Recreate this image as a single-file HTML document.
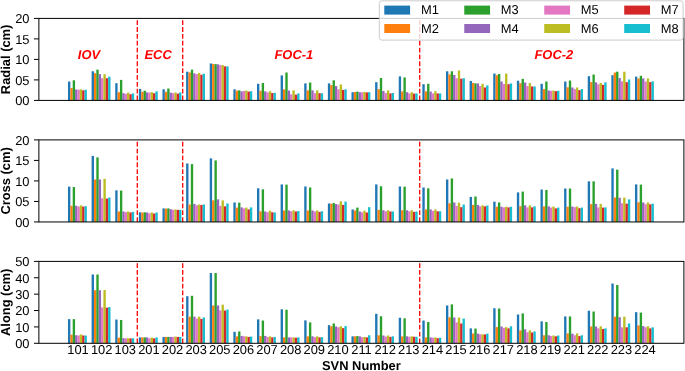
<!DOCTYPE html>
<html><head><meta charset="utf-8"><title>SVN orbit errors</title>
<style>html,body{margin:0;padding:0;background:#fff}svg{display:block}</style></head>
<body>
<svg width="685" height="371" viewBox="0 0 685 371" font-family="'Liberation Sans', Arial, sans-serif" text-rendering="geometricPrecision">
<rect width="685" height="371" fill="#fff"/>
<rect x="67.98" y="81.54" width="2.36" height="18.86" fill="#1f77b4"/>
<rect x="70.34" y="88.10" width="2.36" height="12.30" fill="#ff7f0e"/>
<rect x="72.70" y="80.31" width="2.36" height="20.09" fill="#2ca02c"/>
<rect x="75.07" y="89.54" width="2.36" height="10.86" fill="#9467bd"/>
<rect x="77.43" y="89.74" width="2.36" height="10.66" fill="#e377c2"/>
<rect x="79.79" y="89.33" width="2.36" height="11.07" fill="#bcbd22"/>
<rect x="82.16" y="90.36" width="2.36" height="10.04" fill="#d62728"/>
<rect x="84.52" y="89.74" width="2.36" height="10.66" fill="#17becf"/>
<rect x="91.61" y="71.29" width="2.36" height="29.11" fill="#1f77b4"/>
<rect x="93.97" y="73.14" width="2.36" height="27.27" fill="#ff7f0e"/>
<rect x="96.33" y="69.65" width="2.36" height="30.75" fill="#2ca02c"/>
<rect x="98.69" y="74.16" width="2.36" height="26.24" fill="#9467bd"/>
<rect x="101.06" y="78.26" width="2.36" height="22.14" fill="#e377c2"/>
<rect x="103.42" y="74.16" width="2.36" height="26.24" fill="#bcbd22"/>
<rect x="105.78" y="78.26" width="2.36" height="22.14" fill="#d62728"/>
<rect x="108.14" y="76.62" width="2.36" height="23.78" fill="#17becf"/>
<rect x="115.23" y="83.18" width="2.36" height="17.22" fill="#1f77b4"/>
<rect x="117.59" y="92.20" width="2.36" height="8.20" fill="#ff7f0e"/>
<rect x="119.95" y="79.90" width="2.36" height="20.50" fill="#2ca02c"/>
<rect x="122.32" y="93.23" width="2.36" height="7.17" fill="#9467bd"/>
<rect x="124.68" y="93.84" width="2.36" height="6.56" fill="#e377c2"/>
<rect x="127.04" y="92.61" width="2.36" height="7.79" fill="#bcbd22"/>
<rect x="129.41" y="94.25" width="2.36" height="6.15" fill="#d62728"/>
<rect x="131.77" y="93.43" width="2.36" height="6.97" fill="#17becf"/>
<rect x="138.86" y="88.92" width="2.36" height="11.48" fill="#1f77b4"/>
<rect x="141.22" y="91.79" width="2.36" height="8.61" fill="#ff7f0e"/>
<rect x="143.58" y="90.77" width="2.36" height="9.63" fill="#2ca02c"/>
<rect x="145.94" y="92.41" width="2.36" height="7.99" fill="#9467bd"/>
<rect x="148.31" y="92.61" width="2.36" height="7.79" fill="#e377c2"/>
<rect x="150.67" y="92.20" width="2.36" height="8.20" fill="#bcbd22"/>
<rect x="153.03" y="93.23" width="2.36" height="7.17" fill="#d62728"/>
<rect x="155.39" y="91.38" width="2.36" height="9.02" fill="#17becf"/>
<rect x="162.48" y="89.33" width="2.36" height="11.07" fill="#1f77b4"/>
<rect x="164.84" y="91.79" width="2.36" height="8.61" fill="#ff7f0e"/>
<rect x="167.21" y="88.51" width="2.36" height="11.89" fill="#2ca02c"/>
<rect x="169.57" y="92.61" width="2.36" height="7.79" fill="#9467bd"/>
<rect x="171.93" y="93.23" width="2.36" height="7.17" fill="#e377c2"/>
<rect x="174.29" y="92.41" width="2.36" height="7.99" fill="#bcbd22"/>
<rect x="176.66" y="93.64" width="2.36" height="6.76" fill="#d62728"/>
<rect x="179.02" y="92.41" width="2.36" height="7.99" fill="#17becf"/>
<rect x="186.11" y="71.70" width="2.36" height="28.70" fill="#1f77b4"/>
<rect x="188.47" y="72.52" width="2.36" height="27.88" fill="#ff7f0e"/>
<rect x="190.83" y="69.65" width="2.36" height="30.75" fill="#2ca02c"/>
<rect x="193.19" y="73.34" width="2.36" height="27.06" fill="#9467bd"/>
<rect x="195.56" y="74.16" width="2.36" height="26.24" fill="#e377c2"/>
<rect x="197.92" y="72.93" width="2.36" height="27.47" fill="#bcbd22"/>
<rect x="200.28" y="74.78" width="2.36" height="25.62" fill="#d62728"/>
<rect x="202.64" y="73.75" width="2.36" height="26.65" fill="#17becf"/>
<rect x="209.73" y="63.50" width="2.36" height="36.90" fill="#1f77b4"/>
<rect x="212.09" y="63.91" width="2.36" height="36.49" fill="#ff7f0e"/>
<rect x="214.46" y="64.12" width="2.36" height="36.28" fill="#2ca02c"/>
<rect x="216.82" y="64.32" width="2.36" height="36.08" fill="#9467bd"/>
<rect x="219.18" y="65.14" width="2.36" height="35.26" fill="#e377c2"/>
<rect x="221.54" y="65.14" width="2.36" height="35.26" fill="#bcbd22"/>
<rect x="223.91" y="66.37" width="2.36" height="34.03" fill="#d62728"/>
<rect x="226.27" y="66.37" width="2.36" height="34.03" fill="#17becf"/>
<rect x="233.36" y="89.33" width="2.36" height="11.07" fill="#1f77b4"/>
<rect x="235.72" y="90.56" width="2.36" height="9.84" fill="#ff7f0e"/>
<rect x="238.08" y="90.36" width="2.36" height="10.04" fill="#2ca02c"/>
<rect x="240.44" y="91.38" width="2.36" height="9.02" fill="#9467bd"/>
<rect x="242.81" y="90.97" width="2.36" height="9.43" fill="#e377c2"/>
<rect x="245.17" y="90.56" width="2.36" height="9.84" fill="#bcbd22"/>
<rect x="247.53" y="91.59" width="2.36" height="8.81" fill="#d62728"/>
<rect x="249.89" y="91.18" width="2.36" height="9.22" fill="#17becf"/>
<rect x="256.98" y="83.80" width="2.36" height="16.60" fill="#1f77b4"/>
<rect x="259.34" y="90.77" width="2.36" height="9.63" fill="#ff7f0e"/>
<rect x="261.71" y="82.98" width="2.36" height="17.42" fill="#2ca02c"/>
<rect x="264.07" y="91.38" width="2.36" height="9.02" fill="#9467bd"/>
<rect x="266.43" y="92.41" width="2.36" height="7.99" fill="#e377c2"/>
<rect x="268.79" y="91.18" width="2.36" height="9.22" fill="#bcbd22"/>
<rect x="271.16" y="93.02" width="2.36" height="7.38" fill="#d62728"/>
<rect x="273.52" y="92.82" width="2.36" height="7.58" fill="#17becf"/>
<rect x="280.61" y="75.39" width="2.36" height="25.01" fill="#1f77b4"/>
<rect x="282.97" y="89.33" width="2.36" height="11.07" fill="#ff7f0e"/>
<rect x="285.33" y="72.52" width="2.36" height="27.88" fill="#2ca02c"/>
<rect x="287.69" y="90.56" width="2.36" height="9.84" fill="#9467bd"/>
<rect x="290.06" y="94.25" width="2.36" height="6.15" fill="#e377c2"/>
<rect x="292.42" y="90.36" width="2.36" height="10.04" fill="#bcbd22"/>
<rect x="294.78" y="94.66" width="2.36" height="5.74" fill="#d62728"/>
<rect x="297.14" y="93.43" width="2.36" height="6.97" fill="#17becf"/>
<rect x="304.23" y="83.39" width="2.36" height="17.02" fill="#1f77b4"/>
<rect x="306.59" y="90.36" width="2.36" height="10.04" fill="#ff7f0e"/>
<rect x="308.96" y="82.57" width="2.36" height="17.83" fill="#2ca02c"/>
<rect x="311.32" y="90.36" width="2.36" height="10.04" fill="#9467bd"/>
<rect x="313.68" y="93.23" width="2.36" height="7.17" fill="#e377c2"/>
<rect x="316.04" y="90.36" width="2.36" height="10.04" fill="#bcbd22"/>
<rect x="318.41" y="93.23" width="2.36" height="7.17" fill="#d62728"/>
<rect x="320.77" y="93.23" width="2.36" height="7.17" fill="#17becf"/>
<rect x="327.86" y="83.39" width="2.36" height="17.02" fill="#1f77b4"/>
<rect x="330.22" y="85.03" width="2.36" height="15.37" fill="#ff7f0e"/>
<rect x="332.58" y="80.31" width="2.36" height="20.09" fill="#2ca02c"/>
<rect x="334.94" y="86.05" width="2.36" height="14.35" fill="#9467bd"/>
<rect x="337.31" y="89.33" width="2.36" height="11.07" fill="#e377c2"/>
<rect x="339.67" y="84.41" width="2.36" height="15.99" fill="#bcbd22"/>
<rect x="342.03" y="89.95" width="2.36" height="10.45" fill="#d62728"/>
<rect x="344.39" y="89.33" width="2.36" height="11.07" fill="#17becf"/>
<rect x="351.48" y="92.20" width="2.36" height="8.20" fill="#1f77b4"/>
<rect x="353.84" y="92.00" width="2.36" height="8.40" fill="#ff7f0e"/>
<rect x="356.21" y="91.59" width="2.36" height="8.81" fill="#2ca02c"/>
<rect x="358.57" y="92.20" width="2.36" height="8.20" fill="#9467bd"/>
<rect x="360.93" y="92.41" width="2.36" height="7.99" fill="#e377c2"/>
<rect x="363.29" y="91.79" width="2.36" height="8.61" fill="#bcbd22"/>
<rect x="365.66" y="92.41" width="2.36" height="7.99" fill="#d62728"/>
<rect x="368.02" y="92.20" width="2.36" height="8.20" fill="#17becf"/>
<rect x="375.11" y="82.16" width="2.36" height="18.24" fill="#1f77b4"/>
<rect x="377.47" y="89.12" width="2.36" height="11.27" fill="#ff7f0e"/>
<rect x="379.83" y="78.06" width="2.36" height="22.34" fill="#2ca02c"/>
<rect x="382.19" y="90.97" width="2.36" height="9.43" fill="#9467bd"/>
<rect x="384.56" y="93.02" width="2.36" height="7.38" fill="#e377c2"/>
<rect x="386.92" y="90.36" width="2.36" height="10.04" fill="#bcbd22"/>
<rect x="389.28" y="93.43" width="2.36" height="6.97" fill="#d62728"/>
<rect x="391.64" y="93.02" width="2.36" height="7.38" fill="#17becf"/>
<rect x="398.73" y="76.42" width="2.36" height="23.98" fill="#1f77b4"/>
<rect x="401.09" y="91.38" width="2.36" height="9.02" fill="#ff7f0e"/>
<rect x="403.46" y="77.44" width="2.36" height="22.96" fill="#2ca02c"/>
<rect x="405.82" y="92.20" width="2.36" height="8.20" fill="#9467bd"/>
<rect x="408.18" y="93.43" width="2.36" height="6.97" fill="#e377c2"/>
<rect x="410.54" y="92.20" width="2.36" height="8.20" fill="#bcbd22"/>
<rect x="412.91" y="93.64" width="2.36" height="6.76" fill="#d62728"/>
<rect x="415.27" y="93.43" width="2.36" height="6.97" fill="#17becf"/>
<rect x="422.36" y="84.21" width="2.36" height="16.20" fill="#1f77b4"/>
<rect x="424.72" y="91.38" width="2.36" height="9.02" fill="#ff7f0e"/>
<rect x="427.08" y="83.80" width="2.36" height="16.60" fill="#2ca02c"/>
<rect x="429.44" y="91.59" width="2.36" height="8.81" fill="#9467bd"/>
<rect x="431.81" y="93.43" width="2.36" height="6.97" fill="#e377c2"/>
<rect x="434.17" y="91.18" width="2.36" height="9.22" fill="#bcbd22"/>
<rect x="436.53" y="93.43" width="2.36" height="6.97" fill="#d62728"/>
<rect x="438.89" y="93.43" width="2.36" height="6.97" fill="#17becf"/>
<rect x="445.98" y="71.29" width="2.36" height="29.11" fill="#1f77b4"/>
<rect x="448.34" y="74.37" width="2.36" height="26.03" fill="#ff7f0e"/>
<rect x="450.71" y="71.29" width="2.36" height="29.11" fill="#2ca02c"/>
<rect x="453.07" y="74.98" width="2.36" height="25.42" fill="#9467bd"/>
<rect x="455.43" y="78.26" width="2.36" height="22.14" fill="#e377c2"/>
<rect x="457.79" y="70.47" width="2.36" height="29.93" fill="#bcbd22"/>
<rect x="460.16" y="78.67" width="2.36" height="21.73" fill="#d62728"/>
<rect x="462.52" y="78.26" width="2.36" height="22.14" fill="#17becf"/>
<rect x="469.61" y="80.93" width="2.36" height="19.47" fill="#1f77b4"/>
<rect x="471.97" y="82.98" width="2.36" height="17.42" fill="#ff7f0e"/>
<rect x="474.33" y="83.39" width="2.36" height="17.02" fill="#2ca02c"/>
<rect x="476.69" y="83.39" width="2.36" height="17.02" fill="#9467bd"/>
<rect x="479.06" y="86.05" width="2.36" height="14.35" fill="#e377c2"/>
<rect x="481.42" y="83.80" width="2.36" height="16.60" fill="#bcbd22"/>
<rect x="483.78" y="87.49" width="2.36" height="12.91" fill="#d62728"/>
<rect x="486.14" y="85.44" width="2.36" height="14.96" fill="#17becf"/>
<rect x="493.23" y="73.55" width="2.36" height="26.85" fill="#1f77b4"/>
<rect x="495.59" y="75.19" width="2.36" height="25.21" fill="#ff7f0e"/>
<rect x="497.96" y="73.96" width="2.36" height="26.44" fill="#2ca02c"/>
<rect x="500.32" y="81.54" width="2.36" height="18.86" fill="#9467bd"/>
<rect x="502.68" y="84.00" width="2.36" height="16.40" fill="#e377c2"/>
<rect x="505.04" y="73.55" width="2.36" height="26.85" fill="#bcbd22"/>
<rect x="507.41" y="84.21" width="2.36" height="16.20" fill="#d62728"/>
<rect x="509.77" y="83.39" width="2.36" height="17.02" fill="#17becf"/>
<rect x="516.86" y="80.72" width="2.36" height="19.68" fill="#1f77b4"/>
<rect x="519.22" y="83.18" width="2.36" height="17.22" fill="#ff7f0e"/>
<rect x="521.58" y="78.88" width="2.36" height="21.52" fill="#2ca02c"/>
<rect x="523.94" y="82.57" width="2.36" height="17.83" fill="#9467bd"/>
<rect x="526.31" y="86.05" width="2.36" height="14.35" fill="#e377c2"/>
<rect x="528.67" y="82.98" width="2.36" height="17.42" fill="#bcbd22"/>
<rect x="531.03" y="86.46" width="2.36" height="13.94" fill="#d62728"/>
<rect x="533.39" y="86.46" width="2.36" height="13.94" fill="#17becf"/>
<rect x="540.48" y="83.80" width="2.36" height="16.60" fill="#1f77b4"/>
<rect x="542.84" y="89.12" width="2.36" height="11.27" fill="#ff7f0e"/>
<rect x="545.21" y="81.54" width="2.36" height="18.86" fill="#2ca02c"/>
<rect x="547.57" y="90.56" width="2.36" height="9.84" fill="#9467bd"/>
<rect x="549.93" y="90.77" width="2.36" height="9.63" fill="#e377c2"/>
<rect x="552.29" y="90.56" width="2.36" height="9.84" fill="#bcbd22"/>
<rect x="554.65" y="91.18" width="2.36" height="9.22" fill="#d62728"/>
<rect x="557.02" y="90.77" width="2.36" height="9.63" fill="#17becf"/>
<rect x="564.11" y="81.54" width="2.36" height="18.86" fill="#1f77b4"/>
<rect x="566.47" y="87.28" width="2.36" height="13.12" fill="#ff7f0e"/>
<rect x="568.83" y="80.52" width="2.36" height="19.88" fill="#2ca02c"/>
<rect x="571.19" y="87.49" width="2.36" height="12.91" fill="#9467bd"/>
<rect x="573.56" y="89.12" width="2.36" height="11.27" fill="#e377c2"/>
<rect x="575.92" y="87.49" width="2.36" height="12.91" fill="#bcbd22"/>
<rect x="578.28" y="90.15" width="2.36" height="10.25" fill="#d62728"/>
<rect x="580.64" y="89.12" width="2.36" height="11.27" fill="#17becf"/>
<rect x="587.73" y="76.21" width="2.36" height="24.19" fill="#1f77b4"/>
<rect x="590.09" y="82.16" width="2.36" height="18.24" fill="#ff7f0e"/>
<rect x="592.46" y="74.57" width="2.36" height="25.83" fill="#2ca02c"/>
<rect x="594.82" y="82.36" width="2.36" height="18.04" fill="#9467bd"/>
<rect x="597.18" y="84.41" width="2.36" height="15.99" fill="#e377c2"/>
<rect x="599.54" y="82.98" width="2.36" height="17.42" fill="#bcbd22"/>
<rect x="601.90" y="84.82" width="2.36" height="15.58" fill="#d62728"/>
<rect x="604.27" y="82.36" width="2.36" height="18.04" fill="#17becf"/>
<rect x="611.36" y="75.19" width="2.36" height="25.21" fill="#1f77b4"/>
<rect x="613.72" y="72.52" width="2.36" height="27.88" fill="#ff7f0e"/>
<rect x="616.08" y="71.70" width="2.36" height="28.70" fill="#2ca02c"/>
<rect x="618.44" y="78.06" width="2.36" height="22.34" fill="#9467bd"/>
<rect x="620.81" y="81.34" width="2.36" height="19.07" fill="#e377c2"/>
<rect x="623.17" y="71.70" width="2.36" height="28.70" fill="#bcbd22"/>
<rect x="625.53" y="82.16" width="2.36" height="18.24" fill="#d62728"/>
<rect x="627.89" y="79.49" width="2.36" height="20.91" fill="#17becf"/>
<rect x="634.98" y="76.62" width="2.36" height="23.78" fill="#1f77b4"/>
<rect x="637.34" y="78.47" width="2.36" height="21.93" fill="#ff7f0e"/>
<rect x="639.71" y="75.80" width="2.36" height="24.60" fill="#2ca02c"/>
<rect x="642.07" y="78.47" width="2.36" height="21.93" fill="#9467bd"/>
<rect x="644.43" y="81.54" width="2.36" height="18.86" fill="#e377c2"/>
<rect x="646.79" y="78.47" width="2.36" height="21.93" fill="#bcbd22"/>
<rect x="649.15" y="82.16" width="2.36" height="18.24" fill="#d62728"/>
<rect x="651.52" y="81.34" width="2.36" height="19.07" fill="#17becf"/>
<line x1="137.30" y1="100.40" x2="137.30" y2="18.40" stroke="#ff0000" stroke-width="1.3" stroke-dasharray="4.78 2.07"/>
<line x1="182.70" y1="100.40" x2="182.70" y2="18.40" stroke="#ff0000" stroke-width="1.3" stroke-dasharray="4.78 2.07"/>
<line x1="419.70" y1="100.40" x2="419.70" y2="18.40" stroke="#ff0000" stroke-width="1.3" stroke-dasharray="4.78 2.07"/>
<rect x="38.88" y="18.40" width="645.02" height="82.00" fill="none" stroke="#000" stroke-width="1.0"/>
<line x1="33.98" y1="100.40" x2="38.88" y2="100.40" stroke="#000" stroke-width="1.0"/>
<text x="29.5" y="105.35" font-size="12.9" text-anchor="end">00</text>
<line x1="33.98" y1="79.90" x2="38.88" y2="79.90" stroke="#000" stroke-width="1.0"/>
<text x="29.5" y="84.85" font-size="12.9" text-anchor="end">05</text>
<line x1="33.98" y1="59.40" x2="38.88" y2="59.40" stroke="#000" stroke-width="1.0"/>
<text x="29.5" y="64.35" font-size="12.9" text-anchor="end">10</text>
<line x1="33.98" y1="38.90" x2="38.88" y2="38.90" stroke="#000" stroke-width="1.0"/>
<text x="29.5" y="43.85" font-size="12.9" text-anchor="end">15</text>
<line x1="33.98" y1="18.40" x2="38.88" y2="18.40" stroke="#000" stroke-width="1.0"/>
<text x="29.5" y="23.35" font-size="12.9" text-anchor="end">20</text>
<text transform="translate(10.0,59.40) rotate(-90)" font-size="12.9" font-weight="bold" text-anchor="middle">Radial (cm)</text>
<rect x="67.98" y="186.67" width="2.36" height="35.28" fill="#1f77b4"/>
<rect x="70.34" y="205.75" width="2.36" height="16.20" fill="#ff7f0e"/>
<rect x="72.70" y="187.08" width="2.36" height="34.87" fill="#2ca02c"/>
<rect x="75.07" y="205.75" width="2.36" height="16.20" fill="#9467bd"/>
<rect x="77.43" y="206.57" width="2.36" height="15.38" fill="#e377c2"/>
<rect x="79.79" y="205.33" width="2.36" height="16.62" fill="#bcbd22"/>
<rect x="82.16" y="206.57" width="2.36" height="15.38" fill="#d62728"/>
<rect x="84.52" y="206.16" width="2.36" height="15.79" fill="#17becf"/>
<rect x="91.61" y="155.90" width="2.36" height="66.05" fill="#1f77b4"/>
<rect x="93.97" y="179.49" width="2.36" height="42.46" fill="#ff7f0e"/>
<rect x="96.33" y="157.34" width="2.36" height="64.61" fill="#2ca02c"/>
<rect x="98.69" y="179.49" width="2.36" height="42.46" fill="#9467bd"/>
<rect x="101.06" y="198.36" width="2.36" height="23.59" fill="#e377c2"/>
<rect x="103.42" y="178.87" width="2.36" height="43.08" fill="#bcbd22"/>
<rect x="105.78" y="198.57" width="2.36" height="23.38" fill="#d62728"/>
<rect x="108.14" y="197.54" width="2.36" height="24.41" fill="#17becf"/>
<rect x="115.23" y="190.36" width="2.36" height="31.59" fill="#1f77b4"/>
<rect x="117.59" y="211.49" width="2.36" height="10.46" fill="#ff7f0e"/>
<rect x="119.95" y="190.57" width="2.36" height="31.38" fill="#2ca02c"/>
<rect x="122.32" y="211.49" width="2.36" height="10.46" fill="#9467bd"/>
<rect x="124.68" y="212.10" width="2.36" height="9.85" fill="#e377c2"/>
<rect x="127.04" y="211.49" width="2.36" height="10.46" fill="#bcbd22"/>
<rect x="129.41" y="212.51" width="2.36" height="9.44" fill="#d62728"/>
<rect x="131.77" y="211.90" width="2.36" height="10.05" fill="#17becf"/>
<rect x="138.86" y="212.31" width="2.36" height="9.64" fill="#1f77b4"/>
<rect x="141.22" y="212.51" width="2.36" height="9.44" fill="#ff7f0e"/>
<rect x="143.58" y="212.31" width="2.36" height="9.64" fill="#2ca02c"/>
<rect x="145.94" y="212.51" width="2.36" height="9.44" fill="#9467bd"/>
<rect x="148.31" y="213.33" width="2.36" height="8.62" fill="#e377c2"/>
<rect x="150.67" y="212.51" width="2.36" height="9.44" fill="#bcbd22"/>
<rect x="153.03" y="213.54" width="2.36" height="8.41" fill="#d62728"/>
<rect x="155.39" y="212.51" width="2.36" height="9.44" fill="#17becf"/>
<rect x="162.48" y="208.41" width="2.36" height="13.54" fill="#1f77b4"/>
<rect x="164.84" y="208.62" width="2.36" height="13.33" fill="#ff7f0e"/>
<rect x="167.21" y="208.41" width="2.36" height="13.54" fill="#2ca02c"/>
<rect x="169.57" y="209.23" width="2.36" height="12.72" fill="#9467bd"/>
<rect x="171.93" y="209.85" width="2.36" height="12.10" fill="#e377c2"/>
<rect x="174.29" y="209.44" width="2.36" height="12.51" fill="#bcbd22"/>
<rect x="176.66" y="209.85" width="2.36" height="12.10" fill="#d62728"/>
<rect x="179.02" y="209.85" width="2.36" height="12.10" fill="#17becf"/>
<rect x="186.11" y="163.49" width="2.36" height="58.46" fill="#1f77b4"/>
<rect x="188.47" y="204.51" width="2.36" height="17.44" fill="#ff7f0e"/>
<rect x="190.83" y="164.10" width="2.36" height="57.85" fill="#2ca02c"/>
<rect x="193.19" y="203.90" width="2.36" height="18.05" fill="#9467bd"/>
<rect x="195.56" y="205.33" width="2.36" height="16.62" fill="#e377c2"/>
<rect x="197.92" y="204.51" width="2.36" height="17.44" fill="#bcbd22"/>
<rect x="200.28" y="204.92" width="2.36" height="17.03" fill="#d62728"/>
<rect x="202.64" y="204.51" width="2.36" height="17.44" fill="#17becf"/>
<rect x="209.73" y="158.36" width="2.36" height="63.59" fill="#1f77b4"/>
<rect x="212.09" y="200.41" width="2.36" height="21.54" fill="#ff7f0e"/>
<rect x="214.46" y="160.41" width="2.36" height="61.54" fill="#2ca02c"/>
<rect x="216.82" y="199.39" width="2.36" height="22.56" fill="#9467bd"/>
<rect x="219.18" y="205.95" width="2.36" height="16.00" fill="#e377c2"/>
<rect x="221.54" y="200.41" width="2.36" height="21.54" fill="#bcbd22"/>
<rect x="223.91" y="206.36" width="2.36" height="15.59" fill="#d62728"/>
<rect x="226.27" y="203.49" width="2.36" height="18.46" fill="#17becf"/>
<rect x="233.36" y="202.46" width="2.36" height="19.49" fill="#1f77b4"/>
<rect x="235.72" y="207.59" width="2.36" height="14.36" fill="#ff7f0e"/>
<rect x="238.08" y="202.67" width="2.36" height="19.28" fill="#2ca02c"/>
<rect x="240.44" y="207.39" width="2.36" height="14.56" fill="#9467bd"/>
<rect x="242.81" y="208.41" width="2.36" height="13.54" fill="#e377c2"/>
<rect x="245.17" y="207.59" width="2.36" height="14.36" fill="#bcbd22"/>
<rect x="247.53" y="209.44" width="2.36" height="12.51" fill="#d62728"/>
<rect x="249.89" y="207.39" width="2.36" height="14.56" fill="#17becf"/>
<rect x="256.98" y="188.31" width="2.36" height="33.64" fill="#1f77b4"/>
<rect x="259.34" y="211.28" width="2.36" height="10.67" fill="#ff7f0e"/>
<rect x="261.71" y="189.34" width="2.36" height="32.61" fill="#2ca02c"/>
<rect x="264.07" y="211.49" width="2.36" height="10.46" fill="#9467bd"/>
<rect x="266.43" y="212.31" width="2.36" height="9.64" fill="#e377c2"/>
<rect x="268.79" y="210.67" width="2.36" height="11.28" fill="#bcbd22"/>
<rect x="271.16" y="212.31" width="2.36" height="9.64" fill="#d62728"/>
<rect x="273.52" y="212.51" width="2.36" height="9.44" fill="#17becf"/>
<rect x="280.61" y="184.41" width="2.36" height="37.54" fill="#1f77b4"/>
<rect x="282.97" y="210.46" width="2.36" height="11.49" fill="#ff7f0e"/>
<rect x="285.33" y="184.62" width="2.36" height="37.33" fill="#2ca02c"/>
<rect x="287.69" y="210.46" width="2.36" height="11.49" fill="#9467bd"/>
<rect x="290.06" y="211.28" width="2.36" height="10.67" fill="#e377c2"/>
<rect x="292.42" y="210.26" width="2.36" height="11.69" fill="#bcbd22"/>
<rect x="294.78" y="211.49" width="2.36" height="10.46" fill="#d62728"/>
<rect x="297.14" y="211.08" width="2.36" height="10.87" fill="#17becf"/>
<rect x="304.23" y="186.46" width="2.36" height="35.49" fill="#1f77b4"/>
<rect x="306.59" y="210.46" width="2.36" height="11.49" fill="#ff7f0e"/>
<rect x="308.96" y="187.49" width="2.36" height="34.46" fill="#2ca02c"/>
<rect x="311.32" y="210.46" width="2.36" height="11.49" fill="#9467bd"/>
<rect x="313.68" y="211.49" width="2.36" height="10.46" fill="#e377c2"/>
<rect x="316.04" y="210.46" width="2.36" height="11.49" fill="#bcbd22"/>
<rect x="318.41" y="211.90" width="2.36" height="10.05" fill="#d62728"/>
<rect x="320.77" y="211.28" width="2.36" height="10.67" fill="#17becf"/>
<rect x="327.86" y="203.49" width="2.36" height="18.46" fill="#1f77b4"/>
<rect x="330.22" y="203.69" width="2.36" height="18.26" fill="#ff7f0e"/>
<rect x="332.58" y="203.08" width="2.36" height="18.87" fill="#2ca02c"/>
<rect x="334.94" y="204.10" width="2.36" height="17.85" fill="#9467bd"/>
<rect x="337.31" y="204.51" width="2.36" height="17.44" fill="#e377c2"/>
<rect x="339.67" y="201.23" width="2.36" height="20.72" fill="#bcbd22"/>
<rect x="342.03" y="204.92" width="2.36" height="17.03" fill="#d62728"/>
<rect x="344.39" y="201.64" width="2.36" height="20.31" fill="#17becf"/>
<rect x="351.48" y="209.44" width="2.36" height="12.51" fill="#1f77b4"/>
<rect x="353.84" y="210.46" width="2.36" height="11.49" fill="#ff7f0e"/>
<rect x="356.21" y="207.59" width="2.36" height="14.36" fill="#2ca02c"/>
<rect x="358.57" y="211.49" width="2.36" height="10.46" fill="#9467bd"/>
<rect x="360.93" y="212.31" width="2.36" height="9.64" fill="#e377c2"/>
<rect x="363.29" y="210.67" width="2.36" height="11.28" fill="#bcbd22"/>
<rect x="365.66" y="212.51" width="2.36" height="9.44" fill="#d62728"/>
<rect x="368.02" y="207.18" width="2.36" height="14.77" fill="#17becf"/>
<rect x="375.11" y="184.41" width="2.36" height="37.54" fill="#1f77b4"/>
<rect x="377.47" y="209.85" width="2.36" height="12.10" fill="#ff7f0e"/>
<rect x="379.83" y="186.26" width="2.36" height="35.69" fill="#2ca02c"/>
<rect x="382.19" y="210.26" width="2.36" height="11.69" fill="#9467bd"/>
<rect x="384.56" y="211.28" width="2.36" height="10.67" fill="#e377c2"/>
<rect x="386.92" y="210.26" width="2.36" height="11.69" fill="#bcbd22"/>
<rect x="389.28" y="211.49" width="2.36" height="10.46" fill="#d62728"/>
<rect x="391.64" y="211.49" width="2.36" height="10.46" fill="#17becf"/>
<rect x="398.73" y="186.46" width="2.36" height="35.49" fill="#1f77b4"/>
<rect x="401.09" y="210.26" width="2.36" height="11.69" fill="#ff7f0e"/>
<rect x="403.46" y="186.67" width="2.36" height="35.28" fill="#2ca02c"/>
<rect x="405.82" y="210.26" width="2.36" height="11.69" fill="#9467bd"/>
<rect x="408.18" y="211.28" width="2.36" height="10.67" fill="#e377c2"/>
<rect x="410.54" y="210.26" width="2.36" height="11.69" fill="#bcbd22"/>
<rect x="412.91" y="211.90" width="2.36" height="10.05" fill="#d62728"/>
<rect x="415.27" y="211.49" width="2.36" height="10.46" fill="#17becf"/>
<rect x="422.36" y="187.49" width="2.36" height="34.46" fill="#1f77b4"/>
<rect x="424.72" y="209.44" width="2.36" height="12.51" fill="#ff7f0e"/>
<rect x="427.08" y="188.31" width="2.36" height="33.64" fill="#2ca02c"/>
<rect x="429.44" y="209.44" width="2.36" height="12.51" fill="#9467bd"/>
<rect x="431.81" y="210.87" width="2.36" height="11.08" fill="#e377c2"/>
<rect x="434.17" y="209.44" width="2.36" height="12.51" fill="#bcbd22"/>
<rect x="436.53" y="211.28" width="2.36" height="10.67" fill="#d62728"/>
<rect x="438.89" y="211.28" width="2.36" height="10.67" fill="#17becf"/>
<rect x="445.98" y="179.49" width="2.36" height="42.46" fill="#1f77b4"/>
<rect x="448.34" y="203.28" width="2.36" height="18.67" fill="#ff7f0e"/>
<rect x="450.71" y="178.46" width="2.36" height="43.49" fill="#2ca02c"/>
<rect x="453.07" y="202.46" width="2.36" height="19.49" fill="#9467bd"/>
<rect x="455.43" y="205.95" width="2.36" height="16.00" fill="#e377c2"/>
<rect x="457.79" y="202.67" width="2.36" height="19.28" fill="#bcbd22"/>
<rect x="460.16" y="207.18" width="2.36" height="14.77" fill="#d62728"/>
<rect x="462.52" y="204.51" width="2.36" height="17.44" fill="#17becf"/>
<rect x="469.61" y="196.92" width="2.36" height="25.03" fill="#1f77b4"/>
<rect x="471.97" y="204.92" width="2.36" height="17.03" fill="#ff7f0e"/>
<rect x="474.33" y="196.51" width="2.36" height="25.44" fill="#2ca02c"/>
<rect x="476.69" y="204.92" width="2.36" height="17.03" fill="#9467bd"/>
<rect x="479.06" y="206.36" width="2.36" height="15.59" fill="#e377c2"/>
<rect x="481.42" y="205.33" width="2.36" height="16.62" fill="#bcbd22"/>
<rect x="483.78" y="206.36" width="2.36" height="15.59" fill="#d62728"/>
<rect x="486.14" y="205.54" width="2.36" height="16.41" fill="#17becf"/>
<rect x="493.23" y="201.64" width="2.36" height="20.31" fill="#1f77b4"/>
<rect x="495.59" y="206.77" width="2.36" height="15.18" fill="#ff7f0e"/>
<rect x="497.96" y="202.46" width="2.36" height="19.49" fill="#2ca02c"/>
<rect x="500.32" y="206.77" width="2.36" height="15.18" fill="#9467bd"/>
<rect x="502.68" y="207.39" width="2.36" height="14.56" fill="#e377c2"/>
<rect x="505.04" y="206.77" width="2.36" height="15.18" fill="#bcbd22"/>
<rect x="507.41" y="207.39" width="2.36" height="14.56" fill="#d62728"/>
<rect x="509.77" y="206.77" width="2.36" height="15.18" fill="#17becf"/>
<rect x="516.86" y="192.41" width="2.36" height="29.54" fill="#1f77b4"/>
<rect x="519.22" y="206.16" width="2.36" height="15.79" fill="#ff7f0e"/>
<rect x="521.58" y="191.59" width="2.36" height="30.36" fill="#2ca02c"/>
<rect x="523.94" y="205.33" width="2.36" height="16.62" fill="#9467bd"/>
<rect x="526.31" y="207.39" width="2.36" height="14.56" fill="#e377c2"/>
<rect x="528.67" y="205.33" width="2.36" height="16.62" fill="#bcbd22"/>
<rect x="531.03" y="207.39" width="2.36" height="14.56" fill="#d62728"/>
<rect x="533.39" y="206.36" width="2.36" height="15.59" fill="#17becf"/>
<rect x="540.48" y="189.54" width="2.36" height="32.41" fill="#1f77b4"/>
<rect x="542.84" y="206.36" width="2.36" height="15.59" fill="#ff7f0e"/>
<rect x="545.21" y="189.95" width="2.36" height="32.00" fill="#2ca02c"/>
<rect x="547.57" y="206.36" width="2.36" height="15.59" fill="#9467bd"/>
<rect x="549.93" y="207.59" width="2.36" height="14.36" fill="#e377c2"/>
<rect x="552.29" y="206.57" width="2.36" height="15.38" fill="#bcbd22"/>
<rect x="554.65" y="208.41" width="2.36" height="13.54" fill="#d62728"/>
<rect x="557.02" y="207.59" width="2.36" height="14.36" fill="#17becf"/>
<rect x="564.11" y="188.51" width="2.36" height="33.44" fill="#1f77b4"/>
<rect x="566.47" y="206.77" width="2.36" height="15.18" fill="#ff7f0e"/>
<rect x="568.83" y="188.51" width="2.36" height="33.44" fill="#2ca02c"/>
<rect x="571.19" y="206.57" width="2.36" height="15.38" fill="#9467bd"/>
<rect x="573.56" y="207.18" width="2.36" height="14.77" fill="#e377c2"/>
<rect x="575.92" y="206.57" width="2.36" height="15.38" fill="#bcbd22"/>
<rect x="578.28" y="208.21" width="2.36" height="13.74" fill="#d62728"/>
<rect x="580.64" y="207.59" width="2.36" height="14.36" fill="#17becf"/>
<rect x="587.73" y="181.34" width="2.36" height="40.61" fill="#1f77b4"/>
<rect x="590.09" y="204.10" width="2.36" height="17.85" fill="#ff7f0e"/>
<rect x="592.46" y="181.34" width="2.36" height="40.61" fill="#2ca02c"/>
<rect x="594.82" y="203.90" width="2.36" height="18.05" fill="#9467bd"/>
<rect x="597.18" y="207.39" width="2.36" height="14.56" fill="#e377c2"/>
<rect x="599.54" y="203.90" width="2.36" height="18.05" fill="#bcbd22"/>
<rect x="601.90" y="207.59" width="2.36" height="14.36" fill="#d62728"/>
<rect x="604.27" y="207.39" width="2.36" height="14.56" fill="#17becf"/>
<rect x="611.36" y="168.41" width="2.36" height="53.54" fill="#1f77b4"/>
<rect x="613.72" y="197.54" width="2.36" height="24.41" fill="#ff7f0e"/>
<rect x="616.08" y="169.64" width="2.36" height="52.31" fill="#2ca02c"/>
<rect x="618.44" y="197.75" width="2.36" height="24.20" fill="#9467bd"/>
<rect x="620.81" y="203.28" width="2.36" height="18.67" fill="#e377c2"/>
<rect x="623.17" y="197.54" width="2.36" height="24.41" fill="#bcbd22"/>
<rect x="625.53" y="203.69" width="2.36" height="18.26" fill="#d62728"/>
<rect x="627.89" y="199.39" width="2.36" height="22.56" fill="#17becf"/>
<rect x="634.98" y="184.41" width="2.36" height="37.54" fill="#1f77b4"/>
<rect x="637.34" y="202.26" width="2.36" height="19.69" fill="#ff7f0e"/>
<rect x="639.71" y="184.62" width="2.36" height="37.33" fill="#2ca02c"/>
<rect x="642.07" y="202.46" width="2.36" height="19.49" fill="#9467bd"/>
<rect x="644.43" y="204.31" width="2.36" height="17.64" fill="#e377c2"/>
<rect x="646.79" y="202.46" width="2.36" height="19.49" fill="#bcbd22"/>
<rect x="649.15" y="204.31" width="2.36" height="17.64" fill="#d62728"/>
<rect x="651.52" y="203.69" width="2.36" height="18.26" fill="#17becf"/>
<line x1="137.30" y1="221.95" x2="137.30" y2="139.90" stroke="#ff0000" stroke-width="1.3" stroke-dasharray="4.78 2.07"/>
<line x1="182.70" y1="221.95" x2="182.70" y2="139.90" stroke="#ff0000" stroke-width="1.3" stroke-dasharray="4.78 2.07"/>
<line x1="419.70" y1="221.95" x2="419.70" y2="139.90" stroke="#ff0000" stroke-width="1.3" stroke-dasharray="4.78 2.07"/>
<rect x="38.88" y="139.90" width="645.02" height="82.05" fill="none" stroke="#000" stroke-width="1.0"/>
<line x1="33.98" y1="221.95" x2="38.88" y2="221.95" stroke="#000" stroke-width="1.0"/>
<text x="29.5" y="226.90" font-size="12.9" text-anchor="end">00</text>
<line x1="33.98" y1="201.44" x2="38.88" y2="201.44" stroke="#000" stroke-width="1.0"/>
<text x="29.5" y="206.39" font-size="12.9" text-anchor="end">05</text>
<line x1="33.98" y1="180.93" x2="38.88" y2="180.93" stroke="#000" stroke-width="1.0"/>
<text x="29.5" y="185.88" font-size="12.9" text-anchor="end">10</text>
<line x1="33.98" y1="160.41" x2="38.88" y2="160.41" stroke="#000" stroke-width="1.0"/>
<text x="29.5" y="165.36" font-size="12.9" text-anchor="end">15</text>
<line x1="33.98" y1="139.90" x2="38.88" y2="139.90" stroke="#000" stroke-width="1.0"/>
<text x="29.5" y="144.85" font-size="12.9" text-anchor="end">20</text>
<text transform="translate(10.0,180.93) rotate(-90)" font-size="12.9" font-weight="bold" text-anchor="middle">Cross (cm)</text>
<rect x="67.98" y="319.14" width="2.36" height="24.16" fill="#1f77b4"/>
<rect x="70.34" y="334.70" width="2.36" height="8.60" fill="#ff7f0e"/>
<rect x="72.70" y="319.14" width="2.36" height="24.16" fill="#2ca02c"/>
<rect x="75.07" y="335.27" width="2.36" height="8.03" fill="#9467bd"/>
<rect x="77.43" y="335.52" width="2.36" height="7.78" fill="#e377c2"/>
<rect x="79.79" y="334.45" width="2.36" height="8.85" fill="#bcbd22"/>
<rect x="82.16" y="335.52" width="2.36" height="7.78" fill="#d62728"/>
<rect x="84.52" y="335.52" width="2.36" height="7.78" fill="#17becf"/>
<rect x="91.61" y="274.50" width="2.36" height="68.80" fill="#1f77b4"/>
<rect x="93.97" y="290.23" width="2.36" height="53.07" fill="#ff7f0e"/>
<rect x="96.33" y="274.50" width="2.36" height="68.80" fill="#2ca02c"/>
<rect x="98.69" y="290.23" width="2.36" height="53.07" fill="#9467bd"/>
<rect x="101.06" y="307.43" width="2.36" height="35.87" fill="#e377c2"/>
<rect x="103.42" y="290.06" width="2.36" height="53.24" fill="#bcbd22"/>
<rect x="105.78" y="307.67" width="2.36" height="35.63" fill="#d62728"/>
<rect x="108.14" y="307.10" width="2.36" height="36.20" fill="#17becf"/>
<rect x="115.23" y="319.55" width="2.36" height="23.75" fill="#1f77b4"/>
<rect x="117.59" y="337.73" width="2.36" height="5.57" fill="#ff7f0e"/>
<rect x="119.95" y="319.96" width="2.36" height="23.34" fill="#2ca02c"/>
<rect x="122.32" y="338.22" width="2.36" height="5.08" fill="#9467bd"/>
<rect x="124.68" y="338.39" width="2.36" height="4.91" fill="#e377c2"/>
<rect x="127.04" y="338.22" width="2.36" height="5.08" fill="#bcbd22"/>
<rect x="129.41" y="338.39" width="2.36" height="4.91" fill="#d62728"/>
<rect x="131.77" y="338.22" width="2.36" height="5.08" fill="#17becf"/>
<rect x="138.86" y="337.40" width="2.36" height="5.90" fill="#1f77b4"/>
<rect x="141.22" y="337.40" width="2.36" height="5.90" fill="#ff7f0e"/>
<rect x="143.58" y="337.40" width="2.36" height="5.90" fill="#2ca02c"/>
<rect x="145.94" y="337.40" width="2.36" height="5.90" fill="#9467bd"/>
<rect x="148.31" y="338.22" width="2.36" height="5.08" fill="#e377c2"/>
<rect x="150.67" y="337.57" width="2.36" height="5.73" fill="#bcbd22"/>
<rect x="153.03" y="338.39" width="2.36" height="4.91" fill="#d62728"/>
<rect x="155.39" y="337.40" width="2.36" height="5.90" fill="#17becf"/>
<rect x="162.48" y="336.91" width="2.36" height="6.39" fill="#1f77b4"/>
<rect x="164.84" y="336.91" width="2.36" height="6.39" fill="#ff7f0e"/>
<rect x="167.21" y="336.91" width="2.36" height="6.39" fill="#2ca02c"/>
<rect x="169.57" y="336.91" width="2.36" height="6.39" fill="#9467bd"/>
<rect x="171.93" y="336.91" width="2.36" height="6.39" fill="#e377c2"/>
<rect x="174.29" y="336.58" width="2.36" height="6.72" fill="#bcbd22"/>
<rect x="176.66" y="336.91" width="2.36" height="6.39" fill="#d62728"/>
<rect x="179.02" y="336.91" width="2.36" height="6.39" fill="#17becf"/>
<rect x="186.11" y="296.21" width="2.36" height="47.09" fill="#1f77b4"/>
<rect x="188.47" y="316.68" width="2.36" height="26.62" fill="#ff7f0e"/>
<rect x="190.83" y="295.80" width="2.36" height="47.50" fill="#2ca02c"/>
<rect x="193.19" y="316.68" width="2.36" height="26.62" fill="#9467bd"/>
<rect x="195.56" y="318.57" width="2.36" height="24.73" fill="#e377c2"/>
<rect x="197.92" y="316.68" width="2.36" height="26.62" fill="#bcbd22"/>
<rect x="200.28" y="318.89" width="2.36" height="24.41" fill="#d62728"/>
<rect x="202.64" y="317.50" width="2.36" height="25.80" fill="#17becf"/>
<rect x="209.73" y="273.03" width="2.36" height="70.27" fill="#1f77b4"/>
<rect x="212.09" y="305.46" width="2.36" height="37.84" fill="#ff7f0e"/>
<rect x="214.46" y="273.03" width="2.36" height="70.27" fill="#2ca02c"/>
<rect x="216.82" y="305.46" width="2.36" height="37.84" fill="#9467bd"/>
<rect x="219.18" y="310.38" width="2.36" height="32.92" fill="#e377c2"/>
<rect x="221.54" y="304.64" width="2.36" height="38.66" fill="#bcbd22"/>
<rect x="223.91" y="310.54" width="2.36" height="32.76" fill="#d62728"/>
<rect x="226.27" y="309.56" width="2.36" height="33.74" fill="#17becf"/>
<rect x="233.36" y="331.83" width="2.36" height="11.47" fill="#1f77b4"/>
<rect x="235.72" y="336.34" width="2.36" height="6.96" fill="#ff7f0e"/>
<rect x="238.08" y="331.42" width="2.36" height="11.88" fill="#2ca02c"/>
<rect x="240.44" y="335.93" width="2.36" height="7.37" fill="#9467bd"/>
<rect x="242.81" y="336.34" width="2.36" height="6.96" fill="#e377c2"/>
<rect x="245.17" y="336.34" width="2.36" height="6.96" fill="#bcbd22"/>
<rect x="247.53" y="336.91" width="2.36" height="6.39" fill="#d62728"/>
<rect x="249.89" y="336.58" width="2.36" height="6.72" fill="#17becf"/>
<rect x="256.98" y="319.39" width="2.36" height="23.91" fill="#1f77b4"/>
<rect x="259.34" y="336.09" width="2.36" height="7.21" fill="#ff7f0e"/>
<rect x="261.71" y="320.53" width="2.36" height="22.77" fill="#2ca02c"/>
<rect x="264.07" y="335.93" width="2.36" height="7.37" fill="#9467bd"/>
<rect x="266.43" y="336.91" width="2.36" height="6.39" fill="#e377c2"/>
<rect x="268.79" y="336.34" width="2.36" height="6.96" fill="#bcbd22"/>
<rect x="271.16" y="337.40" width="2.36" height="5.90" fill="#d62728"/>
<rect x="273.52" y="336.91" width="2.36" height="6.39" fill="#17becf"/>
<rect x="280.61" y="309.31" width="2.36" height="33.99" fill="#1f77b4"/>
<rect x="282.97" y="337.40" width="2.36" height="5.90" fill="#ff7f0e"/>
<rect x="285.33" y="309.72" width="2.36" height="33.58" fill="#2ca02c"/>
<rect x="287.69" y="337.40" width="2.36" height="5.90" fill="#9467bd"/>
<rect x="290.06" y="337.40" width="2.36" height="5.90" fill="#e377c2"/>
<rect x="292.42" y="337.40" width="2.36" height="5.90" fill="#bcbd22"/>
<rect x="294.78" y="337.73" width="2.36" height="5.57" fill="#d62728"/>
<rect x="297.14" y="337.40" width="2.36" height="5.90" fill="#17becf"/>
<rect x="304.23" y="320.37" width="2.36" height="22.93" fill="#1f77b4"/>
<rect x="306.59" y="336.34" width="2.36" height="6.96" fill="#ff7f0e"/>
<rect x="308.96" y="322.42" width="2.36" height="20.88" fill="#2ca02c"/>
<rect x="311.32" y="336.34" width="2.36" height="6.96" fill="#9467bd"/>
<rect x="313.68" y="337.16" width="2.36" height="6.14" fill="#e377c2"/>
<rect x="316.04" y="336.34" width="2.36" height="6.96" fill="#bcbd22"/>
<rect x="318.41" y="337.40" width="2.36" height="5.90" fill="#d62728"/>
<rect x="320.77" y="337.16" width="2.36" height="6.14" fill="#17becf"/>
<rect x="327.86" y="325.12" width="2.36" height="18.18" fill="#1f77b4"/>
<rect x="330.22" y="326.26" width="2.36" height="17.04" fill="#ff7f0e"/>
<rect x="332.58" y="323.48" width="2.36" height="19.82" fill="#2ca02c"/>
<rect x="334.94" y="326.51" width="2.36" height="16.79" fill="#9467bd"/>
<rect x="337.31" y="327.33" width="2.36" height="15.97" fill="#e377c2"/>
<rect x="339.67" y="326.26" width="2.36" height="17.04" fill="#bcbd22"/>
<rect x="342.03" y="328.15" width="2.36" height="15.15" fill="#d62728"/>
<rect x="344.39" y="326.10" width="2.36" height="17.20" fill="#17becf"/>
<rect x="351.48" y="336.34" width="2.36" height="6.96" fill="#1f77b4"/>
<rect x="353.84" y="336.34" width="2.36" height="6.96" fill="#ff7f0e"/>
<rect x="356.21" y="336.09" width="2.36" height="7.21" fill="#2ca02c"/>
<rect x="358.57" y="336.34" width="2.36" height="6.96" fill="#9467bd"/>
<rect x="360.93" y="337.16" width="2.36" height="6.14" fill="#e377c2"/>
<rect x="363.29" y="336.91" width="2.36" height="6.39" fill="#bcbd22"/>
<rect x="365.66" y="337.40" width="2.36" height="5.90" fill="#d62728"/>
<rect x="368.02" y="335.27" width="2.36" height="8.03" fill="#17becf"/>
<rect x="375.11" y="313.82" width="2.36" height="29.48" fill="#1f77b4"/>
<rect x="377.47" y="335.27" width="2.36" height="8.03" fill="#ff7f0e"/>
<rect x="379.83" y="316.27" width="2.36" height="27.03" fill="#2ca02c"/>
<rect x="382.19" y="335.52" width="2.36" height="7.78" fill="#9467bd"/>
<rect x="384.56" y="336.58" width="2.36" height="6.72" fill="#e377c2"/>
<rect x="386.92" y="335.52" width="2.36" height="7.78" fill="#bcbd22"/>
<rect x="389.28" y="336.91" width="2.36" height="6.39" fill="#d62728"/>
<rect x="391.64" y="336.34" width="2.36" height="6.96" fill="#17becf"/>
<rect x="398.73" y="317.75" width="2.36" height="25.55" fill="#1f77b4"/>
<rect x="401.09" y="336.34" width="2.36" height="6.96" fill="#ff7f0e"/>
<rect x="403.46" y="318.32" width="2.36" height="24.98" fill="#2ca02c"/>
<rect x="405.82" y="336.34" width="2.36" height="6.96" fill="#9467bd"/>
<rect x="408.18" y="336.75" width="2.36" height="6.55" fill="#e377c2"/>
<rect x="410.54" y="336.34" width="2.36" height="6.96" fill="#bcbd22"/>
<rect x="412.91" y="336.75" width="2.36" height="6.55" fill="#d62728"/>
<rect x="415.27" y="336.75" width="2.36" height="6.55" fill="#17becf"/>
<rect x="422.36" y="320.53" width="2.36" height="22.77" fill="#1f77b4"/>
<rect x="424.72" y="337.40" width="2.36" height="5.90" fill="#ff7f0e"/>
<rect x="427.08" y="322.01" width="2.36" height="21.29" fill="#2ca02c"/>
<rect x="429.44" y="337.40" width="2.36" height="5.90" fill="#9467bd"/>
<rect x="431.81" y="337.73" width="2.36" height="5.57" fill="#e377c2"/>
<rect x="434.17" y="337.40" width="2.36" height="5.90" fill="#bcbd22"/>
<rect x="436.53" y="338.22" width="2.36" height="5.08" fill="#d62728"/>
<rect x="438.89" y="337.73" width="2.36" height="5.57" fill="#17becf"/>
<rect x="445.98" y="305.46" width="2.36" height="37.84" fill="#1f77b4"/>
<rect x="448.34" y="317.26" width="2.36" height="26.04" fill="#ff7f0e"/>
<rect x="450.71" y="304.40" width="2.36" height="38.90" fill="#2ca02c"/>
<rect x="453.07" y="317.50" width="2.36" height="25.80" fill="#9467bd"/>
<rect x="455.43" y="322.42" width="2.36" height="20.88" fill="#e377c2"/>
<rect x="457.79" y="317.50" width="2.36" height="25.80" fill="#bcbd22"/>
<rect x="460.16" y="323.48" width="2.36" height="19.82" fill="#d62728"/>
<rect x="462.52" y="318.57" width="2.36" height="24.73" fill="#17becf"/>
<rect x="469.61" y="328.39" width="2.36" height="14.91" fill="#1f77b4"/>
<rect x="471.97" y="333.47" width="2.36" height="9.83" fill="#ff7f0e"/>
<rect x="474.33" y="328.56" width="2.36" height="14.74" fill="#2ca02c"/>
<rect x="476.69" y="333.64" width="2.36" height="9.66" fill="#9467bd"/>
<rect x="479.06" y="334.29" width="2.36" height="9.01" fill="#e377c2"/>
<rect x="481.42" y="334.29" width="2.36" height="9.01" fill="#bcbd22"/>
<rect x="483.78" y="334.45" width="2.36" height="8.85" fill="#d62728"/>
<rect x="486.14" y="333.64" width="2.36" height="9.66" fill="#17becf"/>
<rect x="493.23" y="308.25" width="2.36" height="35.05" fill="#1f77b4"/>
<rect x="495.59" y="327.08" width="2.36" height="16.22" fill="#ff7f0e"/>
<rect x="497.96" y="308.49" width="2.36" height="34.81" fill="#2ca02c"/>
<rect x="500.32" y="326.51" width="2.36" height="16.79" fill="#9467bd"/>
<rect x="502.68" y="327.90" width="2.36" height="15.40" fill="#e377c2"/>
<rect x="505.04" y="327.08" width="2.36" height="16.22" fill="#bcbd22"/>
<rect x="507.41" y="328.39" width="2.36" height="14.91" fill="#d62728"/>
<rect x="509.77" y="326.26" width="2.36" height="17.04" fill="#17becf"/>
<rect x="516.86" y="314.47" width="2.36" height="28.83" fill="#1f77b4"/>
<rect x="519.22" y="330.36" width="2.36" height="12.94" fill="#ff7f0e"/>
<rect x="521.58" y="313.41" width="2.36" height="29.89" fill="#2ca02c"/>
<rect x="523.94" y="329.38" width="2.36" height="13.92" fill="#9467bd"/>
<rect x="526.31" y="332.24" width="2.36" height="11.06" fill="#e377c2"/>
<rect x="528.67" y="330.36" width="2.36" height="12.94" fill="#bcbd22"/>
<rect x="531.03" y="332.49" width="2.36" height="10.81" fill="#d62728"/>
<rect x="533.39" y="331.42" width="2.36" height="11.88" fill="#17becf"/>
<rect x="540.48" y="321.35" width="2.36" height="21.95" fill="#1f77b4"/>
<rect x="542.84" y="335.27" width="2.36" height="8.03" fill="#ff7f0e"/>
<rect x="545.21" y="322.01" width="2.36" height="21.29" fill="#2ca02c"/>
<rect x="547.57" y="335.27" width="2.36" height="8.03" fill="#9467bd"/>
<rect x="549.93" y="336.09" width="2.36" height="7.21" fill="#e377c2"/>
<rect x="552.29" y="335.52" width="2.36" height="7.78" fill="#bcbd22"/>
<rect x="554.65" y="336.34" width="2.36" height="6.96" fill="#d62728"/>
<rect x="557.02" y="335.52" width="2.36" height="7.78" fill="#17becf"/>
<rect x="564.11" y="316.44" width="2.36" height="26.86" fill="#1f77b4"/>
<rect x="566.47" y="333.47" width="2.36" height="9.83" fill="#ff7f0e"/>
<rect x="568.83" y="316.44" width="2.36" height="26.86" fill="#2ca02c"/>
<rect x="571.19" y="333.64" width="2.36" height="9.66" fill="#9467bd"/>
<rect x="573.56" y="335.27" width="2.36" height="8.03" fill="#e377c2"/>
<rect x="575.92" y="333.47" width="2.36" height="9.83" fill="#bcbd22"/>
<rect x="578.28" y="336.09" width="2.36" height="7.21" fill="#d62728"/>
<rect x="580.64" y="335.27" width="2.36" height="8.03" fill="#17becf"/>
<rect x="587.73" y="310.70" width="2.36" height="32.60" fill="#1f77b4"/>
<rect x="590.09" y="326.51" width="2.36" height="16.79" fill="#ff7f0e"/>
<rect x="592.46" y="311.52" width="2.36" height="31.78" fill="#2ca02c"/>
<rect x="594.82" y="326.51" width="2.36" height="16.79" fill="#9467bd"/>
<rect x="597.18" y="328.39" width="2.36" height="14.91" fill="#e377c2"/>
<rect x="599.54" y="326.26" width="2.36" height="17.04" fill="#bcbd22"/>
<rect x="601.90" y="328.97" width="2.36" height="14.33" fill="#d62728"/>
<rect x="604.27" y="328.39" width="2.36" height="14.91" fill="#17becf"/>
<rect x="611.36" y="283.51" width="2.36" height="59.79" fill="#1f77b4"/>
<rect x="613.72" y="316.68" width="2.36" height="26.62" fill="#ff7f0e"/>
<rect x="616.08" y="284.99" width="2.36" height="58.31" fill="#2ca02c"/>
<rect x="618.44" y="317.26" width="2.36" height="26.04" fill="#9467bd"/>
<rect x="620.81" y="327.33" width="2.36" height="15.97" fill="#e377c2"/>
<rect x="623.17" y="316.68" width="2.36" height="26.62" fill="#bcbd22"/>
<rect x="625.53" y="327.33" width="2.36" height="15.97" fill="#d62728"/>
<rect x="627.89" y="323.48" width="2.36" height="19.82" fill="#17becf"/>
<rect x="634.98" y="312.18" width="2.36" height="31.12" fill="#1f77b4"/>
<rect x="637.34" y="325.45" width="2.36" height="17.85" fill="#ff7f0e"/>
<rect x="639.71" y="312.59" width="2.36" height="30.71" fill="#2ca02c"/>
<rect x="642.07" y="326.10" width="2.36" height="17.20" fill="#9467bd"/>
<rect x="644.43" y="327.33" width="2.36" height="15.97" fill="#e377c2"/>
<rect x="646.79" y="326.26" width="2.36" height="17.04" fill="#bcbd22"/>
<rect x="649.15" y="328.39" width="2.36" height="14.91" fill="#d62728"/>
<rect x="651.52" y="327.33" width="2.36" height="15.97" fill="#17becf"/>
<line x1="137.30" y1="343.30" x2="137.30" y2="261.40" stroke="#ff0000" stroke-width="1.3" stroke-dasharray="4.78 2.07"/>
<line x1="182.70" y1="343.30" x2="182.70" y2="261.40" stroke="#ff0000" stroke-width="1.3" stroke-dasharray="4.78 2.07"/>
<line x1="419.70" y1="343.30" x2="419.70" y2="261.40" stroke="#ff0000" stroke-width="1.3" stroke-dasharray="4.78 2.07"/>
<rect x="38.88" y="261.40" width="645.02" height="81.90" fill="none" stroke="#000" stroke-width="1.0"/>
<line x1="33.98" y1="343.30" x2="38.88" y2="343.30" stroke="#000" stroke-width="1.0"/>
<text x="29.5" y="348.25" font-size="12.9" text-anchor="end">00</text>
<line x1="33.98" y1="326.92" x2="38.88" y2="326.92" stroke="#000" stroke-width="1.0"/>
<text x="29.5" y="331.87" font-size="12.9" text-anchor="end">10</text>
<line x1="33.98" y1="310.54" x2="38.88" y2="310.54" stroke="#000" stroke-width="1.0"/>
<text x="29.5" y="315.49" font-size="12.9" text-anchor="end">20</text>
<line x1="33.98" y1="294.16" x2="38.88" y2="294.16" stroke="#000" stroke-width="1.0"/>
<text x="29.5" y="299.11" font-size="12.9" text-anchor="end">30</text>
<line x1="33.98" y1="277.78" x2="38.88" y2="277.78" stroke="#000" stroke-width="1.0"/>
<text x="29.5" y="282.73" font-size="12.9" text-anchor="end">40</text>
<line x1="33.98" y1="261.40" x2="38.88" y2="261.40" stroke="#000" stroke-width="1.0"/>
<text x="29.5" y="266.35" font-size="12.9" text-anchor="end">50</text>
<text transform="translate(10.0,302.35) rotate(-90)" font-size="12.9" font-weight="bold" text-anchor="middle">Along (cm)</text>
<text x="78.03" y="354" font-size="12.9" text-anchor="middle">101</text>
<text x="101.66" y="354" font-size="12.9" text-anchor="middle">102</text>
<text x="125.28" y="354" font-size="12.9" text-anchor="middle">103</text>
<text x="148.91" y="354" font-size="12.9" text-anchor="middle">201</text>
<text x="172.53" y="354" font-size="12.9" text-anchor="middle">202</text>
<text x="196.16" y="354" font-size="12.9" text-anchor="middle">203</text>
<text x="219.78" y="354" font-size="12.9" text-anchor="middle">205</text>
<text x="243.41" y="354" font-size="12.9" text-anchor="middle">206</text>
<text x="267.03" y="354" font-size="12.9" text-anchor="middle">207</text>
<text x="290.66" y="354" font-size="12.9" text-anchor="middle">208</text>
<text x="314.28" y="354" font-size="12.9" text-anchor="middle">209</text>
<text x="337.91" y="354" font-size="12.9" text-anchor="middle">210</text>
<text x="361.53" y="354" font-size="12.9" text-anchor="middle">211</text>
<text x="385.16" y="354" font-size="12.9" text-anchor="middle">212</text>
<text x="408.78" y="354" font-size="12.9" text-anchor="middle">213</text>
<text x="432.41" y="354" font-size="12.9" text-anchor="middle">214</text>
<text x="456.03" y="354" font-size="12.9" text-anchor="middle">215</text>
<text x="479.66" y="354" font-size="12.9" text-anchor="middle">216</text>
<text x="503.28" y="354" font-size="12.9" text-anchor="middle">217</text>
<text x="526.91" y="354" font-size="12.9" text-anchor="middle">218</text>
<text x="550.53" y="354" font-size="12.9" text-anchor="middle">219</text>
<text x="574.16" y="354" font-size="12.9" text-anchor="middle">221</text>
<text x="597.78" y="354" font-size="12.9" text-anchor="middle">222</text>
<text x="621.41" y="354" font-size="12.9" text-anchor="middle">223</text>
<text x="645.03" y="354" font-size="12.9" text-anchor="middle">224</text>
<text x="361.39" y="370" font-size="12.9" font-weight="bold" text-anchor="middle">SVN Number</text>
<text x="77.8" y="59.4" font-size="12.9" font-weight="bold" font-style="italic" fill="#ff0000">IOV</text>
<text x="144.5" y="59.4" font-size="12.9" font-weight="bold" font-style="italic" fill="#ff0000">ECC</text>
<text x="274.5" y="59.4" font-size="12.9" font-weight="bold" font-style="italic" fill="#ff0000">FOC-1</text>
<text x="534.5" y="59.4" font-size="12.9" font-weight="bold" font-style="italic" fill="#ff0000">FOC-2</text>
<rect x="379.3" y="0.8" width="303.8" height="39.3" rx="2.6" ry="2.6" fill="#fff" fill-opacity="0.8" stroke="#ccc" stroke-width="1"/>
<rect x="384.30" y="5.60" width="25.8" height="9" fill="#1f77b4"/>
<text x="420.90" y="14.30" font-size="12.9">M1</text>
<rect x="384.30" y="24.00" width="25.8" height="9" fill="#ff7f0e"/>
<text x="420.90" y="32.70" font-size="12.9">M2</text>
<rect x="464.27" y="5.60" width="25.8" height="9" fill="#2ca02c"/>
<text x="500.87" y="14.30" font-size="12.9">M3</text>
<rect x="464.27" y="24.00" width="25.8" height="9" fill="#9467bd"/>
<text x="500.87" y="32.70" font-size="12.9">M4</text>
<rect x="544.24" y="5.60" width="25.8" height="9" fill="#e377c2"/>
<text x="580.84" y="14.30" font-size="12.9">M5</text>
<rect x="544.24" y="24.00" width="25.8" height="9" fill="#bcbd22"/>
<text x="580.84" y="32.70" font-size="12.9">M6</text>
<rect x="624.21" y="5.60" width="25.8" height="9" fill="#d62728"/>
<text x="660.81" y="14.30" font-size="12.9">M7</text>
<rect x="624.21" y="24.00" width="25.8" height="9" fill="#17becf"/>
<text x="660.81" y="32.70" font-size="12.9">M8</text>
</svg>
</body></html>
